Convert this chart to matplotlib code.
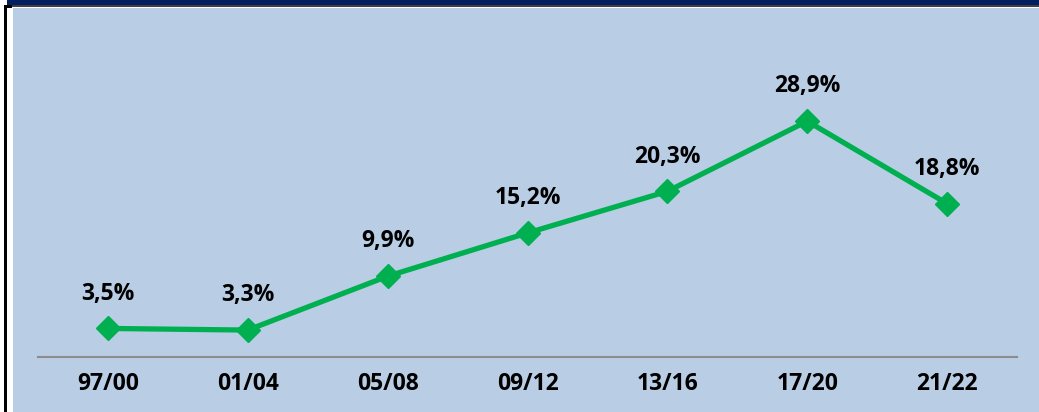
import matplotlib
matplotlib.use('Agg')
import matplotlib.pyplot as plt
from matplotlib.patches import Rectangle

plt.rcParams['font.family'] = ['Open Sans', 'DejaVu Sans']

periods = ['97/00', '01/04', '05/08', '09/12', '13/16', '17/20', '21/22']
values = [3.5, 3.3, 9.9, 15.2, 20.3, 28.9, 18.8]
labels = ['3,5%', '3,3%', '9,9%', '15,2%', '20,3%', '28,9%', '18,8%']

W, H = 1039, 412
fig = plt.figure(figsize=(W / 100, H / 100), dpi=100)
fig.patch.set_facecolor('white')

# frame: light blue panel, navy top bar, black left edge (kept behind the axes)
bg = '#B9CDE5'
frame = [
    ((13 / W, 0), 1, 1 - 8 / H, bg),
    ((7 / W, 1 - 5 / H), 1, 5 / H, '#002060'),
    ((7 / W, 1 - 7 / H), 1, 2 / H, '#404040'),
    ((4 / W, 0), 3 / W, 1 - 5 / H, 'black'),
    ((4 / W, 1 - 8 / H), 8 / W, 3 / H, 'black'),
]
for xy, w, h, c in frame:
    fig.patches.append(Rectangle(xy, w, h, transform=fig.transFigure,
                                 facecolor=c, edgecolor='none', zorder=-5))

ax = fig.add_axes([38 / W, 1 - 357 / H, 979 / W, (357 - 30.6) / H])
ax.set_facecolor('none')

x = range(len(periods))
ax.plot(x, values, color='#00B050', linewidth=3.8, marker='D', markersize=12,
        zorder=3, clip_on=False)

for i, (v, lab) in enumerate(zip(values, labels)):
    ax.annotate(lab, (i, v), xytext=(0, 25), textcoords='offset points',
                ha='center', va='center', fontsize=16.5, fontweight='bold',
                color='black')

ax.set_xlim(-0.5, len(periods) - 0.5)
ax.set_ylim(0, 40)
ax.set_xticks(list(x))
ax.set_xticklabels(periods, fontsize=16.5, fontweight='bold')
ax.tick_params(axis='x', length=0, pad=11)
ax.set_yticks([])
for s in ['top', 'right', 'left']:
    ax.spines[s].set_visible(False)
ax.spines['bottom'].set_color('#8C8C8C')
ax.spines['bottom'].set_linewidth(1.5)

fig.savefig('out.png', dpi=100)
